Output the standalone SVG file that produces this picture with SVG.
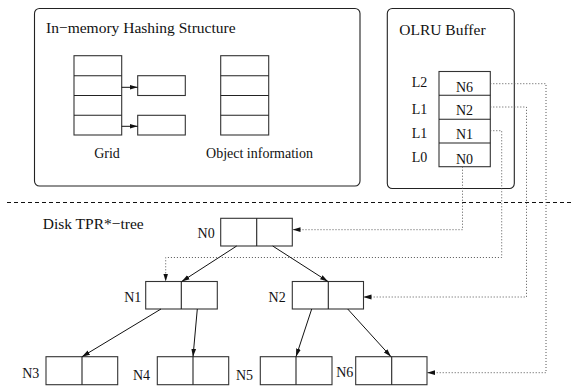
<svg xmlns="http://www.w3.org/2000/svg" width="572" height="386" viewBox="0 0 572 386">
<style>
  text { font-family: "Liberation Serif", "Times New Roman", serif; fill: #111; }
  .title { font-size: 15.5px; }
  .lbl { font-size: 14px; }
  .mid { text-anchor: middle; }
  .end { text-anchor: end; }
  .box { fill: #fff; stroke: #333; stroke-width: 1.1; }
  .cell { fill: none; stroke: #222; stroke-width: 1.1; }
  .frame { fill: none; stroke: #222; stroke-width: 1.1; }
  .edge { fill: none; stroke: #111; stroke-width: 1; marker-end: url(#ah); }
  .dot { fill: none; stroke: #555; stroke-width: 1; stroke-dasharray: 1 2; marker-end: url(#ah); }
  .dash { fill: none; stroke: #111; stroke-width: 1; stroke-dasharray: 4 3; }
</style>
<defs>
  <marker id="ah" viewBox="0 0 8 6" refX="8" refY="3" markerWidth="8" markerHeight="6" markerUnits="userSpaceOnUse" orient="auto">
    <path d="M0,0.6 L8,3 L0,5.4 z" fill="#111"/>
  </marker>
</defs>

<g id="hashing-structure">
  <rect class="frame" x="34.5" y="8.5" width="325.5" height="177.5" rx="5"/>
  <text class="title" x="46" y="32.5">In−memory Hashing Structure</text>
</g>
<g id="grid">
  <rect class="box" x="74" y="55.7" width="47.7" height="79.3"/>
  <line class="cell" x1="74" y1="75.7" x2="121.7" y2="75.7"/>
  <line class="cell" x1="74" y1="95.5" x2="121.7" y2="95.5"/>
  <line class="cell" x1="74" y1="115.3" x2="121.7" y2="115.3"/>
  <text class="lbl mid" x="107" y="157.7">Grid</text>
</g>
<g id="bucket-1">
  <rect class="box" x="137.7" y="75.7" width="47.6" height="19.8"/>
</g>
<g id="bucket-2">
  <rect class="box" x="137.7" y="115.3" width="47.6" height="19.7"/>
</g>
<g id="object-information">
  <rect class="box" x="220.7" y="55.7" width="48" height="79.3"/>
  <line class="cell" x1="220.7" y1="75.7" x2="268.7" y2="75.7"/>
  <line class="cell" x1="220.7" y1="95.5" x2="268.7" y2="95.5"/>
  <line class="cell" x1="220.7" y1="115.3" x2="268.7" y2="115.3"/>
  <text class="lbl mid" x="259.5" y="157.7">Object information</text>
</g>

<g id="olru-buffer">
  <rect class="frame" x="387.3" y="8.5" width="127" height="180" rx="5"/>
  <text class="title" x="399.3" y="35">OLRU Buffer</text>
  <rect class="box" x="439" y="71.5" width="51.3" height="95.2"/>
  <line class="cell" x1="439" y1="95.3" x2="490.3" y2="95.3"/>
  <line class="cell" x1="439" y1="119.2" x2="490.3" y2="119.2"/>
  <line class="cell" x1="439" y1="143" x2="490.3" y2="143" stroke-width="1.6"/>
  <text class="lbl" x="411.7" y="86.7">L2</text>
  <text class="lbl" x="411.7" y="114.3">L1</text>
  <text class="lbl" x="411.7" y="138.3">L1</text>
  <text class="lbl" x="411.7" y="161.7">L0</text>
  <text class="lbl mid" x="464.5" y="92.3">N6</text>
  <text class="lbl mid" x="464.5" y="115">N2</text>
  <text class="lbl mid" x="464.5" y="139">N1</text>
  <text class="lbl mid" x="464.5" y="164">N0</text>
</g>

<g id="disk-separator">
  <line class="dash" x1="7" y1="202.5" x2="572" y2="202.5"/>
  <text class="title" x="42.7" y="229.3">Disk TPR*−tree</text>
</g>

<g id="N0">
  <rect class="box" x="220.7" y="218.3" width="71.6" height="27.7"/>
  <line class="cell" x1="256.7" y1="218.3" x2="256.7" y2="246"/>
  <text class="lbl end" x="214.7" y="237.7">N0</text>
</g>
<g id="N1">
  <rect class="box" x="145.7" y="281.5" width="71.6" height="27.5"/>
  <line class="cell" x1="181.3" y1="281.5" x2="181.3" y2="309"/>
  <text class="lbl end" x="141.3" y="301.7">N1</text>
</g>
<g id="N2">
  <rect class="box" x="292.3" y="281.5" width="71.2" height="27.5"/>
  <line class="cell" x1="328.3" y1="281.5" x2="328.3" y2="309" stroke-width="1.6"/>
  <text class="lbl end" x="285.7" y="301.7">N2</text>
</g>
<g id="N3">
  <rect class="box" x="46" y="356.7" width="71.7" height="28"/>
  <line class="cell" x1="82" y1="356.7" x2="82" y2="384.7" stroke-width="1.6"/>
  <text class="lbl end" x="39.3" y="377.7">N3</text>
</g>
<g id="N4">
  <rect class="box" x="157.3" y="356.7" width="71.4" height="28"/>
  <line class="cell" x1="193" y1="356.7" x2="193" y2="384.7" stroke-width="1.6"/>
  <text class="lbl end" x="150" y="380">N4</text>
</g>
<g id="N5">
  <rect class="box" x="260.3" y="356.7" width="71.7" height="28"/>
  <line class="cell" x1="296" y1="356.7" x2="296" y2="384.7"/>
  <text class="lbl end" x="253" y="379.7">N5</text>
</g>
<g id="N6">
  <rect class="box" x="355.7" y="356.7" width="71.3" height="28"/>
  <line class="cell" x1="391.7" y1="356.7" x2="391.7" y2="384.7"/>
  <text class="lbl end" x="353.3" y="376.7">N6</text>
</g>

<g id="connectors">
  <path class="edge" d="M121.7,87.3 H137.7"/>
  <path class="edge" d="M121.7,126.3 H137.7"/>
  <path class="edge" d="M236.7,246 L181.7,281.5"/>
  <path class="edge" d="M272.7,246 L328,281.5"/>
  <path class="edge" d="M161,309 L82,356.7"/>
  <path class="edge" d="M197.3,309 L193,356.7"/>
  <path class="edge" d="M311.7,309 L296,356.7"/>
  <path class="edge" d="M347.7,309 L391,356.7"/>
  <path class="dot" d="M462.5,166.7 V229.7 H292.5"/>
  <path class="dot" d="M490.3,130.7 H501.7 V257.5 H165.7 V281.5"/>
  <path class="dot" d="M490.3,107 H526.5 V297 H363.5"/>
  <path class="dot" d="M490.3,83.7 H546 V372.7 H427"/>
</g>
</svg>
